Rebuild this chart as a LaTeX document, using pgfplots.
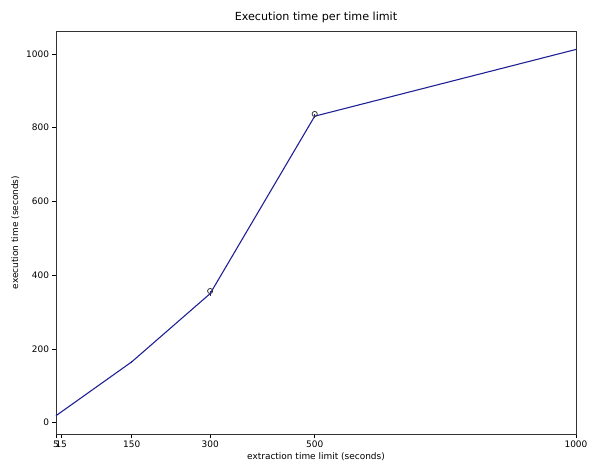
\documentclass[border=0pt]{standalone}
\usepackage{fontspec}
\setmainfont{DejaVu Sans}
\usepackage{pgfplots}
\pgfplotsset{compat=1.18}
\definecolor{linecol}{RGB}{32,32,150}
\begin{document}
\begin{tikzpicture}[x=1bp,y=1bp]
\path[use as bounding box] (-56bp,-33bp) rectangle (534bp,434bp);
\begin{axis}[
  at={(0,0)}, anchor=south west,
  scale only axis, width=520bp, height=403bp,
  xmin=5, xmax=1000, ymin=-30.7, ymax=1062,
  xtick={5,15,150,300,500,1000},
  ytick={0,200,400,600,800,1000},
  tick align=outside, tick pos=lower,
  major tick length=3.5bp,
  tick style={black, line width=0.6pt},
  axis line style={black!80, line width=0.6pt},
  /pgf/number format/assume math mode=true,
  /pgf/number format/1000 sep={},
  tick label style={font=\fontsize{9}{10}\selectfont},
  xlabel={extraction time limit (seconds)},
  ylabel={execution time (seconds)},
  label style={font=\fontsize{9}{10}\selectfont},
  xlabel style={yshift=1.5bp},
  ylabel style={yshift=0bp},
  title={Execution time per time limit},
  title style={font=\fontsize{11.2}{13}\selectfont, yshift=-1bp},
  clip=false,
]
\addplot[linecol, line width=1.1pt, mark=none,
  error bars/.cd, y dir=both, y explicit, error bar style={linecol, line width=0.6pt}, error mark=none]
  coordinates {(5,19) +- (0,0) (15,29) +- (0,0) (150,165) +- (0,3) (300,350) +- (0,6) (500,831) +- (0,6) (1000,1012) +- (0,0)};
\addplot[only marks, mark=o, mark size=2.6bp, black!80, line width=0.8pt]
  coordinates {(300,357) (500,837)};
\end{axis}
\end{tikzpicture}
\end{document}
